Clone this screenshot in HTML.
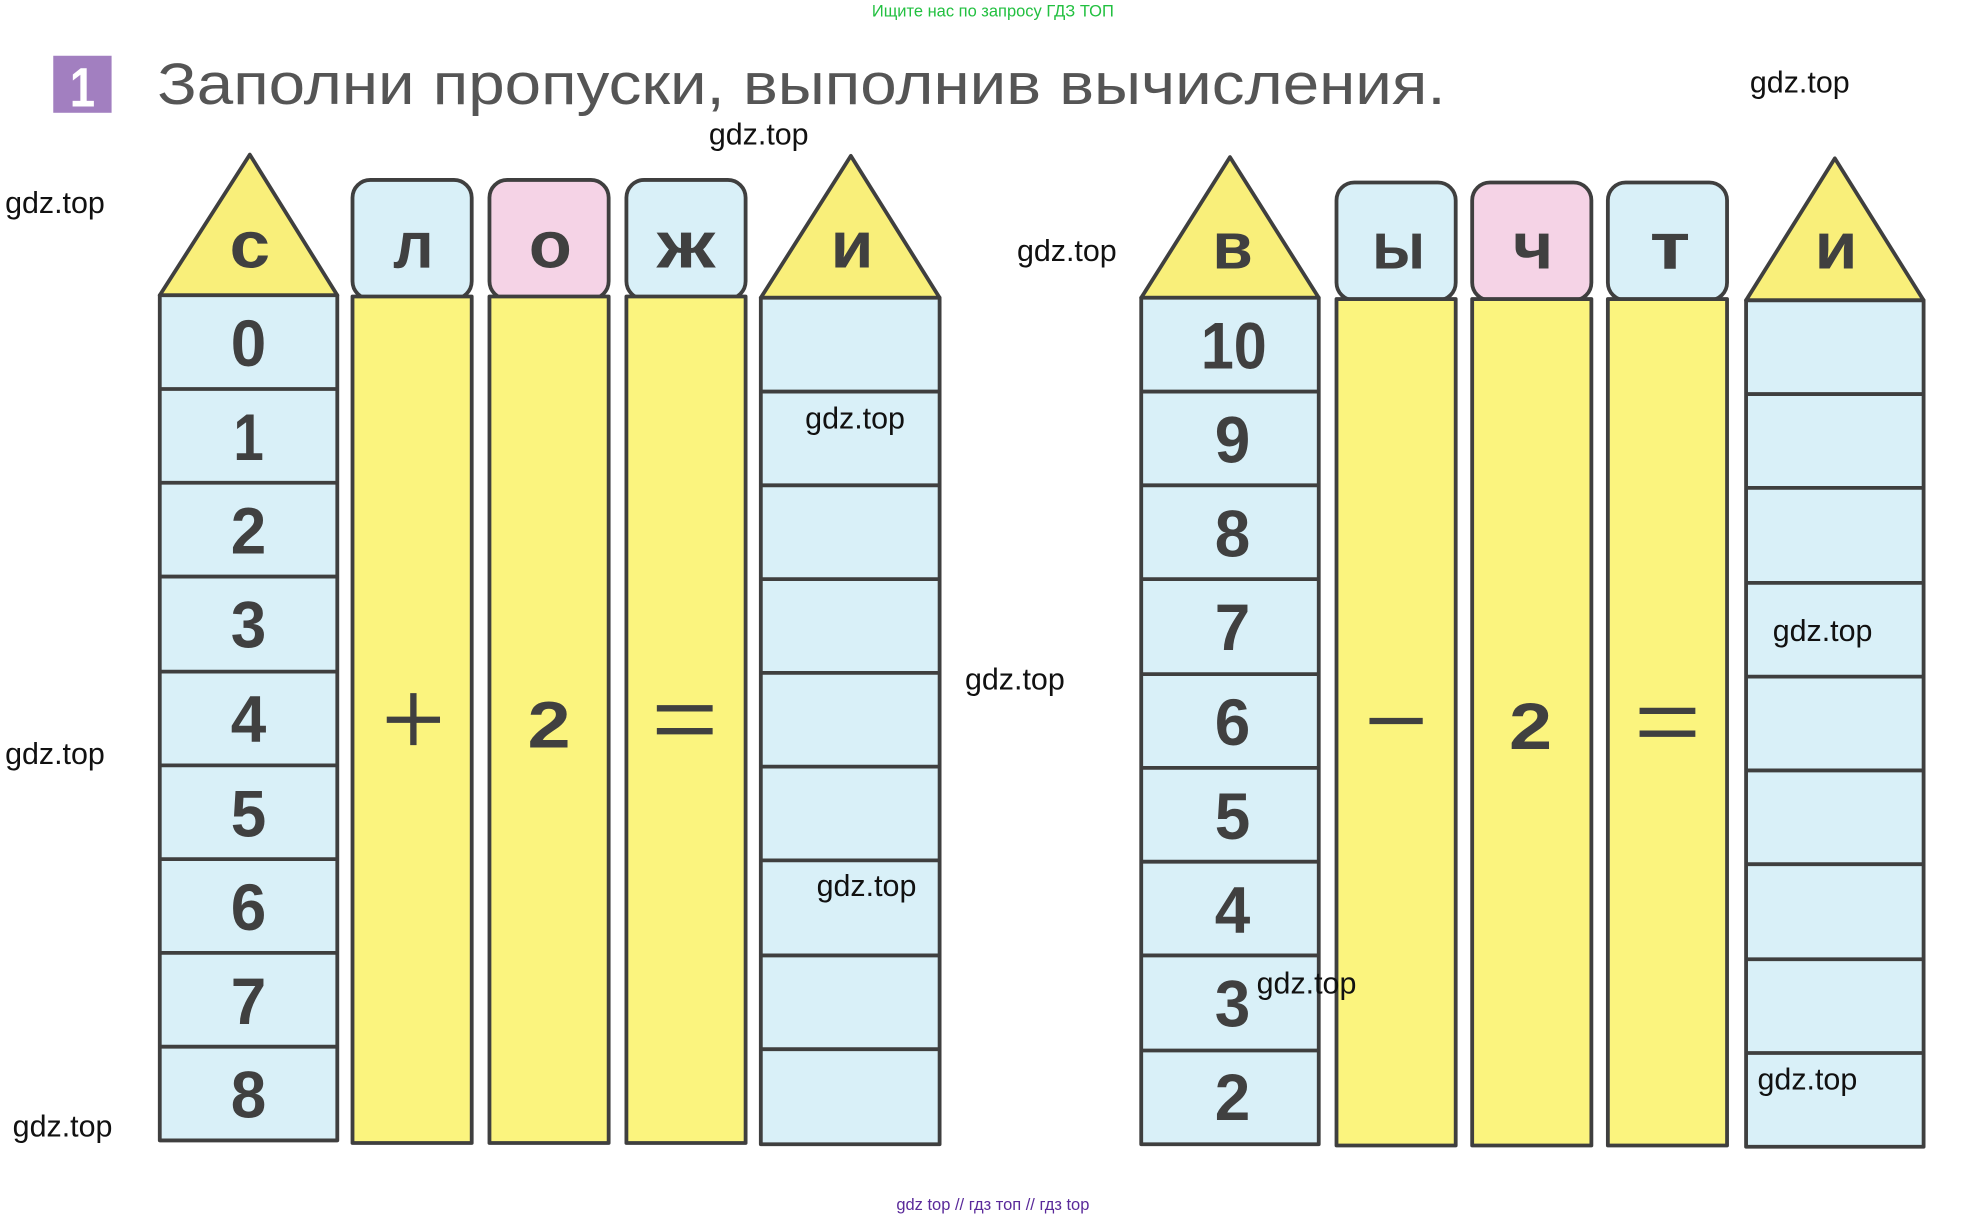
<!DOCTYPE html>
<html><head><meta charset="utf-8"><style>
html,body{margin:0;padding:0;background:#fff;}
svg{display:block}
</style></head><body>
<svg width="1987" height="1219" viewBox="0 0 1567 962" preserveAspectRatio="none" xmlns="http://www.w3.org/2000/svg" font-family="Liberation Sans, sans-serif">
<rect width="1567" height="962" fill="#fff"/>
<text x="783" y="13" font-size="13" fill="#22c040" text-anchor="middle">Ищите нас по запросу ГДЗ ТОП</text>
<rect x="42" y="44" width="46" height="45" fill="#a27fc0"/>
<text x="65" y="84" font-size="44" font-weight="bold" fill="#fff" text-anchor="middle" textLength="20" lengthAdjust="spacingAndGlyphs">1</text>
<text x="124" y="82" font-size="46" fill="#555" textLength="1016" lengthAdjust="spacingAndGlyphs">Заполни   пропуски,   выполнив   вычисления.</text>

<g stroke="#3f3f3f" stroke-width="3" stroke-linejoin="round">
<polygon points="197,122 126,233 266,233" fill="#f9ef7a"/>
<polygon points="671,123 600,235 741,235" fill="#f9ef7a"/>
<rect x="278" y="142" width="94" height="94" rx="14" fill="#d9f0f8"/>
<rect x="386" y="142" width="94" height="94" rx="14" fill="#f5d3e6"/>
<rect x="494" y="142" width="94" height="94" rx="14" fill="#d9f0f8"/>
<rect x="278" y="234" width="94" height="668" fill="#fbf47e"/>
<rect x="386" y="234" width="94" height="668" fill="#fbf47e"/>
<rect x="494" y="234" width="94" height="668" fill="#fbf47e"/>
<rect x="126" y="233" width="140" height="667" fill="#d9f0f8"/>
<rect x="600" y="235" width="141" height="668" fill="#d9f0f8"/>
<path d="M126 307H266M126 381H266M126 455H266M126 530H266M126 604H266M126 678H266M126 752H266M126 826H266" fill="none"/>
<path d="M600 309H741M600 383H741M600 457H741M600 531H741M600 605H741M600 679H741M600 754H741M600 828H741" fill="none"/>
<polygon points="970,124 900,235 1040,235" fill="#f9ef7a"/>
<polygon points="1447,125 1377,237 1517,237" fill="#f9ef7a"/>
<rect x="1054" y="144" width="94" height="93" rx="14" fill="#d9f0f8"/>
<rect x="1161" y="144" width="94" height="93" rx="14" fill="#f5d3e6"/>
<rect x="1268" y="144" width="94" height="93" rx="14" fill="#d9f0f8"/>
<rect x="1054" y="236" width="94" height="668" fill="#fbf47e"/>
<rect x="1161" y="236" width="94" height="668" fill="#fbf47e"/>
<rect x="1268" y="236" width="94" height="668" fill="#fbf47e"/>
<rect x="900" y="235" width="140" height="668" fill="#d9f0f8"/>
<rect x="1377" y="237" width="140" height="668" fill="#d9f0f8"/>
<path d="M900 309H1040M900 383H1040M900 457H1040M900 532H1040M900 606H1040M900 680H1040M900 754H1040M900 829H1040" fill="none"/>
<path d="M1377 311H1517M1377 385H1517M1377 460H1517M1377 534H1517M1377 608H1517M1377 682H1517M1377 757H1517M1377 831H1517" fill="none"/>
</g>

<g font-weight="bold" fill="#404040" text-anchor="middle" font-size="52">
<text x="197" y="211" textLength="32" lengthAdjust="spacingAndGlyphs">с</text>
<text x="326" y="211" textLength="32" lengthAdjust="spacingAndGlyphs">л</text>
<text x="434" y="211" textLength="34" lengthAdjust="spacingAndGlyphs">о</text>
<text x="541" y="211" textLength="46" lengthAdjust="spacingAndGlyphs">ж</text>
<text x="672" y="211" textLength="34" lengthAdjust="spacingAndGlyphs">и</text>
<text x="972" y="212" textLength="32" lengthAdjust="spacingAndGlyphs">в</text>
<text x="1103" y="212" textLength="42" lengthAdjust="spacingAndGlyphs">ы</text>
<text x="1209" y="212" textLength="32" lengthAdjust="spacingAndGlyphs">ч</text>
<text x="1317" y="212" textLength="32" lengthAdjust="spacingAndGlyphs">т</text>
<text x="1448" y="212" textLength="34" lengthAdjust="spacingAndGlyphs">и</text>
</g>
<g font-weight="bold" fill="#404040" text-anchor="middle" font-size="52">
<text x="196" y="289" textLength="28" lengthAdjust="spacingAndGlyphs">0</text>
<text x="196" y="363" textLength="24" lengthAdjust="spacingAndGlyphs">1</text>
<text x="196" y="437" textLength="28" lengthAdjust="spacingAndGlyphs">2</text>
<text x="196" y="511" textLength="28" lengthAdjust="spacingAndGlyphs">3</text>
<text x="196" y="585" textLength="28" lengthAdjust="spacingAndGlyphs">4</text>
<text x="196" y="660" textLength="28" lengthAdjust="spacingAndGlyphs">5</text>
<text x="196" y="734" textLength="28" lengthAdjust="spacingAndGlyphs">6</text>
<text x="196" y="808" textLength="28" lengthAdjust="spacingAndGlyphs">7</text>
<text x="196" y="882" textLength="28" lengthAdjust="spacingAndGlyphs">8</text>
<text x="973" y="291" textLength="52" lengthAdjust="spacingAndGlyphs">10</text>
<text x="972" y="365" textLength="28" lengthAdjust="spacingAndGlyphs">9</text>
<text x="972" y="439" textLength="28" lengthAdjust="spacingAndGlyphs">8</text>
<text x="972" y="513" textLength="28" lengthAdjust="spacingAndGlyphs">7</text>
<text x="972" y="588" textLength="28" lengthAdjust="spacingAndGlyphs">6</text>
<text x="972" y="662" textLength="28" lengthAdjust="spacingAndGlyphs">5</text>
<text x="972" y="736" textLength="28" lengthAdjust="spacingAndGlyphs">4</text>
<text x="972" y="810" textLength="28" lengthAdjust="spacingAndGlyphs">3</text>
<text x="972" y="884" textLength="28" lengthAdjust="spacingAndGlyphs">2</text>
<text x="433" y="590" textLength="34" lengthAdjust="spacingAndGlyphs">2</text>
<text x="1207" y="591" textLength="34" lengthAdjust="spacingAndGlyphs">2</text>
</g>
<g stroke="#404040" stroke-width="5">
<path d="M305 568H347M326 547V588"/>
<path d="M518 559H562M518 577H562"/>
<path d="M1080 569H1122"/>
<path d="M1293 561H1337M1293 579H1337"/>
</g>

<g font-size="24" fill="#111">
<text x="1380" y="73">gdz.top</text>
<text x="559" y="114">gdz.top</text>
<text x="4" y="168">gdz.top</text>
<text x="802" y="206">gdz.top</text>
<text x="635" y="338">gdz.top</text>
<text x="1398" y="506">gdz.top</text>
<text x="761" y="544">gdz.top</text>
<text x="4" y="603">gdz.top</text>
<text x="644" y="707">gdz.top</text>
<text x="991" y="784">gdz.top</text>
<text x="1386" y="860">gdz.top</text>
<text x="10" y="897">gdz.top</text>
</g>
<text x="783" y="955" font-size="13" fill="#5a2a9a" text-anchor="middle">gdz top  //  гдз топ  //  гдз top</text>
</svg>
</body></html>
